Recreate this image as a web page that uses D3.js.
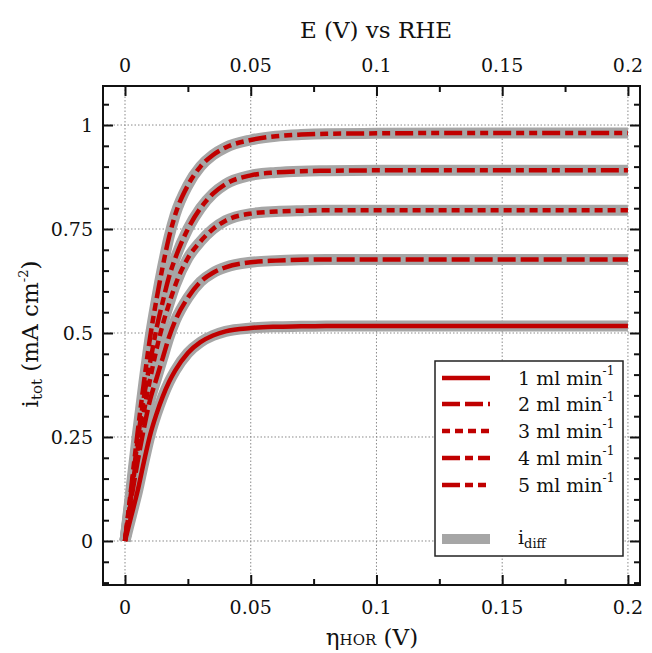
<!DOCTYPE html>
<html><head><meta charset="utf-8">
<script src="https://cdn.jsdelivr.net/npm/d3@7"></script>
<style>body{margin:0;background:#fff;}svg{display:block;}</style>
</head><body>
<svg id="c" width="652" height="653"></svg>
<script>
const eta = [0,0.0025,0.005,0.0075,0.01,0.0125,0.015,0.0175,0.02,0.025,0.03,0.035,0.04,0.05,0.06,0.07,0.08,0.1,0.15,0.2];
const flow1 = [0,0.06,0.12,0.19,0.255,0.305,0.347,0.382,0.41,0.452,0.478,0.494,0.504,0.512,0.515,0.516,0.517,0.517,0.517,0.517];
const flow2 = [0,0.10,0.19,0.27,0.34,0.39,0.44,0.49,0.53,0.585,0.623,0.645,0.658,0.670,0.674,0.676,0.677,0.677,0.677,0.677];
const flow3 = [0,0.11,0.22,0.31,0.39,0.46,0.52,0.57,0.615,0.68,0.72,0.75,0.77,0.787,0.792,0.794,0.795,0.795,0.795,0.795];
const flow4 = [0,0.12,0.24,0.345,0.43,0.51,0.575,0.635,0.68,0.75,0.80,0.835,0.858,0.879,0.886,0.889,0.890,0.891,0.891,0.891];
const flow5 = [0,0.13,0.26,0.38,0.49,0.58,0.66,0.73,0.785,0.855,0.90,0.928,0.946,0.964,0.973,0.977,0.979,0.980,0.981,0.981];
const seriesNames = ["1 ml min","2 ml min","3 ml min","4 ml min","5 ml min"];
const xTicks = [0,0.05,0.1,0.15,0.2];
const xTickLabels = ["0","0.05","0.1","0.15","0.2"];
const xMinor = [0.025,0.075,0.125,0.175];
const yTicks = [0,0.25,0.5,0.75,1];
const yTickLabels = ["0","0.25","0.5","0.75","1"];
const yMinor = [-0.1,-0.05,0.05,0.1,0.15,0.2,0.3,0.35,0.4,0.45,0.55,0.6,0.65,0.7,0.8,0.85,0.9,0.95,1.05];

const allSeries = [flow1,flow2,flow3,flow4,flow5];
const dashes = [null,"18,5","8,5","18,5,8,5","18,5,8,5,8,5"];
const RED = "#c00000", GRAY = "#a6a6a6";
const FONT = "DejaVu Serif, Liberation Serif, Noto Serif, serif";

const svg = d3.select("#c");
const L=103,R=640,T=86,B=585;
const x = d3.scaleLinear().domain([-0.00875,0.2048]).range([L,R]);
const y = d3.scaleLinear().domain([-0.1058,1.0938]).range([B,T]);

// grid
const g = svg.append("g");
g.selectAll("line.gx").data(xTicks).enter().append("line")
 .attr("x1",d=>x(d)).attr("x2",d=>x(d)).attr("y1",T).attr("y2",B)
 .attr("stroke","#8a8a8a").attr("stroke-width",1).attr("stroke-dasharray","1.5,2");
g.selectAll("line.gy").data(yTicks).enter().append("line")
 .attr("y1",d=>y(d)).attr("y2",d=>y(d)).attr("x1",L).attr("x2",R)
 .attr("stroke","#8a8a8a").attr("stroke-width",1).attr("stroke-dasharray","1.5,2");

// curves
const line = d3.line().x((d,i)=>x(eta[i])).y(d=>y(d)).curve(d3.curveMonotoneX);
allSeries.forEach(s=>{
  svg.append("path").attr("d",line(s)).attr("fill","none").attr("stroke",GRAY).attr("stroke-width",11);
});
allSeries.forEach((s,k)=>{
  const p = svg.append("path").attr("d",line(s)).attr("fill","none").attr("stroke",RED).attr("stroke-width",4.5);
  if(dashes[k]) p.attr("stroke-dasharray",dashes[k]);
});

// axes
function axis(gen, scale, ticks, size, tr){
  const a = svg.append("g").attr("transform",tr)
    .call(gen(scale).tickValues(ticks).tickSize(size).tickFormat(""));
  a.select(".domain").remove();
  a.selectAll("line").attr("stroke","#111").attr("stroke-width",2);
  return a;
}
axis(d3.axisBottom, x, xTicks, -10, `translate(0,${B})`);
axis(d3.axisBottom, x, xMinor, -6, `translate(0,${B})`);
axis(d3.axisTop, x, xTicks, -10, `translate(0,${T})`);
axis(d3.axisTop, x, xMinor, -6, `translate(0,${T})`);
axis(d3.axisLeft, y, yTicks, -10, `translate(${L},0)`);
axis(d3.axisLeft, y, yMinor, -6, `translate(${L},0)`);
axis(d3.axisRight, y, yTicks, -10, `translate(${R},0)`);
axis(d3.axisRight, y, yMinor, -6, `translate(${R},0)`);
svg.append("rect").attr("x",L).attr("y",T).attr("width",R-L).attr("height",B-T)
 .attr("fill","none").attr("stroke","#111").attr("stroke-width",2);

// tick labels
const fs = 19;
svg.selectAll("text.xb").data(xTicks).enter().append("text")
 .attr("x",d=>x(d)).attr("y",B+29).attr("text-anchor","middle")
 .attr("font-family",FONT).attr("font-size",fs).attr("fill","#111").text((d,i)=>xTickLabels[i]);
svg.selectAll("text.xt").data(xTicks).enter().append("text")
 .attr("x",d=>x(d)).attr("y",T-14).attr("text-anchor","middle")
 .attr("font-family",FONT).attr("font-size",fs).attr("fill","#111").text((d,i)=>xTickLabels[i]);
svg.selectAll("text.yl").data(yTicks).enter().append("text")
 .attr("x",L-10).attr("y",d=>y(d)+7).attr("text-anchor","end")
 .attr("font-family",FONT).attr("font-size",fs).attr("fill","#111").text((d,i)=>yTickLabels[i]);

// titles
svg.append("text").attr("x",376).attr("y",38).attr("text-anchor","middle")
 .attr("font-family",FONT).attr("font-size",23).attr("fill","#111").text("E (V) vs RHE");
const xt = svg.append("text").attr("x",372).attr("y",645).attr("text-anchor","middle")
 .attr("font-family",FONT).attr("font-size",23).attr("fill","#111");
xt.append("tspan").text("η");
xt.append("tspan").attr("font-size",15).text("HOR");
xt.append("tspan").text(" (V)");
const yt = svg.append("text").attr("transform","translate(38,334) rotate(-90)").attr("text-anchor","middle")
 .attr("font-family",FONT).attr("font-size",23).attr("fill","#111");
yt.append("tspan").text("i");
yt.append("tspan").attr("font-size",15).attr("dy",4).text("tot");
yt.append("tspan").attr("dy",-4).text(" (mA cm");
yt.append("tspan").attr("font-size",13).attr("dy",-10).text("-2");
yt.append("tspan").attr("dy",10).text(")");

// legend
const lg = svg.append("g");
lg.append("rect").attr("x",435).attr("y",361).attr("width",188).attr("height",195)
 .attr("fill","#fff").attr("stroke","#222").attr("stroke-width",1.5);
const rowY = [378,404,431,458,485];
seriesNames.forEach((nm,k)=>{
  const ln = lg.append("line").attr("x1",442).attr("x2",490).attr("y1",rowY[k]).attr("y2",rowY[k])
    .attr("stroke",RED).attr("stroke-width",4.5);
  if(dashes[k]) ln.attr("stroke-dasharray",dashes[k]);
  const t = lg.append("text").attr("x",518).attr("y",rowY[k]+7).attr("font-family",FONT)
    .attr("font-size",19).attr("fill","#111");
  t.append("tspan").text(nm);
  t.append("tspan").attr("font-size",12).attr("dy",-10).text("-1");
});
lg.append("rect").attr("x",442).attr("y",534).attr("width",48).attr("height",10).attr("fill",GRAY);
const td = lg.append("text").attr("x",518).attr("y",544).attr("font-family",FONT).attr("font-size",19).attr("fill","#111");
td.append("tspan").text("i");
td.append("tspan").attr("font-size",13).attr("dy",4).text("diff");
</script>
</body></html>
